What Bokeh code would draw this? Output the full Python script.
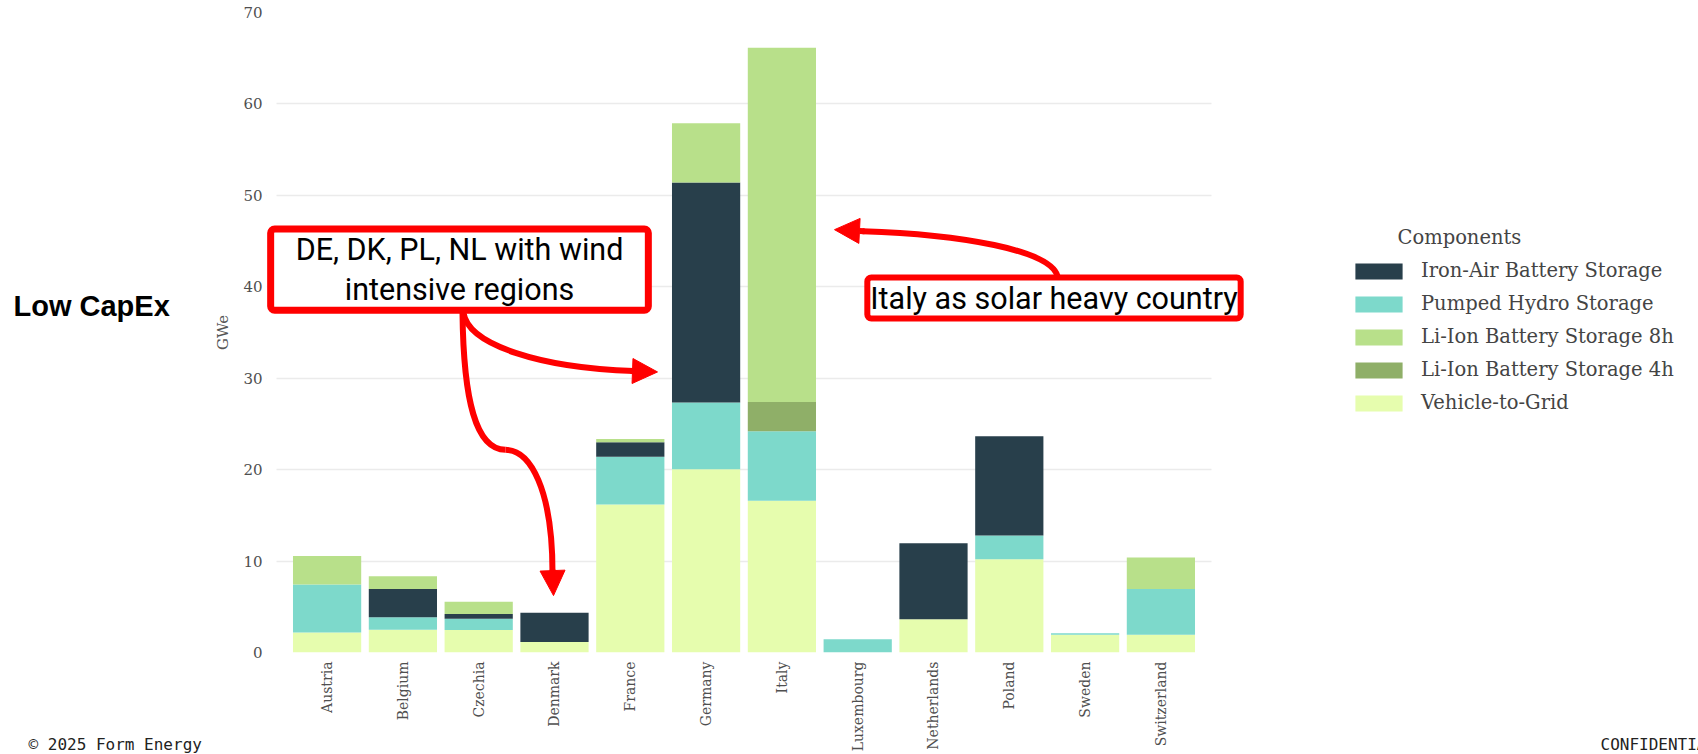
import math
from bokeh.plotting import figure
from bokeh.layouts import row
from bokeh.models import (ColumnDataSource, Range1d, FixedTicker, Legend, LegendItem, Label,
                          Arrow, NormalHead, BoxAnnotation)
from bokeh.embed import file_html
from bokeh.resources import INLINE

# ---------------- data ----------------
countries = ["Austria", "Belgium", "Czechia", "Denmark", "France", "Germany", "Italy",
             "Luxembourg", "Netherlands", "Poland", "Sweden", "Switzerland"]
vehicle_to_grid = [2.2, 2.5, 2.45, 1.15, 16.2, 20.05, 16.6, 0.0, 3.65, 10.2, 1.95, 1.95]
pumped_hydro = [5.25, 1.35, 1.25, 0.0, 5.2, 7.3, 7.6, 1.45, 0.0, 2.6, 0.15, 5.0]
li_ion_4h = [0, 0, 0, 0, 0, 0, 3.2, 0, 0, 0, 0, 0]
iron_air = [0, 3.1, 0.5, 3.2, 1.6, 24.05, 0, 0, 8.3, 10.85, 0, 0]
li_ion_8h = [3.1, 1.4, 1.35, 0, 0.35, 6.5, 38.75, 0, 0, 0, 0, 3.45]
y_ticks = [0, 10, 20, 30, 40, 50, 60, 70]

stack_keys = ["v2g", "ph", "li4", "ia", "li8"]   # bottom -> top
legend_order = [("ia", "Iron-Air Battery Storage"),
                ("ph", "Pumped Hydro Storage"),
                ("li8", "Li-Ion Battery Storage 8h"),
                ("li4", "Li-Ion Battery Storage 4h"),
                ("v2g", "Vehicle-to-Grid")]
colors = {"ia": "#283F4B", "ph": "#7DD9CB", "li8": "#B8E08A", "li4": "#8FAF68", "v2g": "#E6FDAE"}

x_pos = [i + 0.5 for i in range(len(countries))]   # category slots
source = ColumnDataSource(dict(x=x_pos, country=countries, v2g=vehicle_to_grid, ph=pumped_hydro,
                               li4=li_ion_4h, ia=iron_air, li8=li_ion_8h))

# ---------------- layout constants (page pixels) ----------------
W, H = 1698, 754
LEFT_W = 205            # left text panel
MAIN_R = 1250           # right edge of main figure
FRAME_L = 266           # left edge of plotting frame
GL, GR, FT, FB = 276, 1211, 12, 653   # grid left/right, frame top, frame bottom
XSTEP = 75.8
XG = -0.1675            # data x at the grid's left end


def dx(px):
    return XG + (px - GL) / XSTEP


def dy(py):
    return (FB - py) * 70.0 / (FB - FT)


serif = "DejaVu Serif"
RED = "#FF0000"

p = figure(width=MAIN_R - LEFT_W, height=H, x_range=Range1d(dx(FRAME_L), dx(MAIN_R)),
           y_range=Range1d(0, 70), output_backend="svg", toolbar_location=None,
           min_border_left=FRAME_L - LEFT_W, min_border_right=0, min_border_top=FT,
           min_border_bottom=H - FB)
p.frame_align = False
p.outline_line_color = None
p.background_fill_color = "white"
p.border_fill_color = "white"

renderers = p.vbar_stack(stack_keys, x="x", width=0.9, source=source,
                         color=[colors[k] for k in stack_keys], line_width=0)

# axes
p.xaxis.ticker = FixedTicker(ticks=x_pos)
overrides = {}
for xv, c in zip(x_pos, countries):
    overrides[xv] = c
    overrides[str(xv)] = c
p.xaxis.major_label_overrides = overrides
p.yaxis.ticker = FixedTicker(ticks=y_ticks)
p.ygrid.ticker = FixedTicker(ticks=y_ticks)
p.ygrid.grid_line_color = "#EBEBEB"
p.ygrid.grid_line_width = 1.5
p.xgrid.grid_line_color = None
for ax in (p.xaxis, p.yaxis):
    ax.axis_line_color = None
    ax.major_tick_line_color = None
    ax.minor_tick_line_color = None
    ax.major_tick_out = 0
    ax.major_tick_in = 0
    ax.minor_tick_out = 0
    ax.major_label_text_font = serif
    ax.major_label_text_color = "#4F4F4F"
p.xaxis.major_label_text_font_size = "14px"
p.yaxis.major_label_text_font_size = "15px"
p.xaxis.major_label_orientation = math.pi / 2
p.xaxis.major_label_standoff = 9
p.yaxis.major_label_standoff = 4
p.yaxis.axis_label = "GWe"
p.yaxis.axis_label_text_font = serif
p.yaxis.axis_label_text_font_style = "normal"
p.yaxis.axis_label_text_font_size = "15px"
p.yaxis.axis_label_text_color = "#555555"
p.yaxis.axis_label_standoff = 8

# keep grid lines spanning only the reference grid extent
p.add_layout(BoxAnnotation(right=dx(GL), fill_color="white", fill_alpha=1.0, line_color=None))
p.add_layout(BoxAnnotation(left=dx(GR), fill_color="white", fill_alpha=1.0, line_color=None))

# red curved arrows
curves = [
    ((463, 313), (468, 345), (540, 368), (633, 371)),
    ((462, 313), (463, 400), (475, 450), (505, 450)),
    ((505, 450), (530, 450), (552, 490), (552, 573)),
    ((1057, 276), (1050, 250), (960, 234), (862, 231)),
]
p.bezier(x0=[dx(c[0][0]) for c in curves], y0=[dy(c[0][1]) for c in curves],
         cx0=[dx(c[1][0]) for c in curves], cy0=[dy(c[1][1]) for c in curves],
         cx1=[dx(c[2][0]) for c in curves], cy1=[dy(c[2][1]) for c in curves],
         x1=[dx(c[3][0]) for c in curves], y1=[dy(c[3][1]) for c in curves],
         line_color=RED, line_width=6)
heads = [((630, 371), (657, 372)), ((552, 570), (553, 596)), ((864, 231), (834, 229.5))]
for (sx, sy), (ex, ey) in heads:
    p.add_layout(Arrow(x_start=dx(sx), y_start=dy(sy), x_end=dx(ex), y_end=dy(ey),
                       line_color=RED, line_width=6,
                       end=NormalHead(size=25, fill_color=RED, line_color=RED, line_width=1)))

# annotation boxes (padding order: left, right, top, bottom)
box_kw = dict(text_font="Roboto", text_font_size="30.5px", text_color="black",
              text_align="center", text_baseline="middle", border_line_color=RED,
              background_fill_color="white", border_radius=4)
p.add_layout(Label(x=dx(459), y=dy(269.5), text="DE, DK, PL, NL with wind\nintensive regions",
                   border_line_width=7, padding=(25, 25, 3, 3), text_line_height=1.15, **box_kw))
p.add_layout(Label(x=dx(1053.5), y=dy(298), text="Italy as solar heavy country",
                   border_line_width=6, padding=(3, 3, 3, 3), **box_kw))

# ---------------- left text panel ----------------
pl = figure(width=LEFT_W, height=H, x_range=Range1d(0, LEFT_W), y_range=Range1d(H, 0),
            x_axis_type=None, y_axis_type=None, min_border=0, output_backend="svg",
            toolbar_location=None)
pl.frame_align = False
pl.outline_line_color = None
pl.grid.visible = False
pl.add_layout(Label(x=13, y=305, text="Low CapEx", text_font="Liberation Sans",
                    text_font_style="bold", text_font_size="29px", text_color="black",
                    text_baseline="alphabetic"))
pl.add_layout(Label(x=28, y=744, text="\u00a9 2025 Form Energy", text_font="DejaVu Sans Mono",
                    text_font_size="16px", text_color="#222222", text_baseline="alphabetic"))

# ---------------- right panel: legend ----------------
pr = figure(width=W - MAIN_R, height=H, x_range=Range1d(MAIN_R, W), y_range=Range1d(H, 0),
            x_axis_type=None, y_axis_type=None, min_border=0, output_backend="svg",
            toolbar_location=None)
pr.frame_align = False
pr.outline_line_color = None
pr.grid.visible = False
# legend keys (drawn outside the visible range; only their swatches show in the legend)
proxy = {k: pr.vbar(x=[0], top=[-10], width=1, fill_color=colors[k], line_color=None)
         for k in stack_keys}
legend = Legend(items=[LegendItem(label=lab, renderers=[proxy[k]]) for k, lab in legend_order],
                location=(1349 - MAIN_R, H - 414), padding=0, margin=0,
                border_line_color=None, background_fill_alpha=0,
                glyph_width=59, glyph_height=20, label_height=22, spacing=10,
                label_standoff=13, label_text_font=serif, label_text_font_size="19.5px",
                label_text_color="#444444")
pr.add_layout(legend)
pr.add_layout(Label(x=1397, y=237, text="Components", text_font=serif,
                    text_font_size="19.5px", text_color="#444444", text_baseline="alphabetic"))
pr.add_layout(Label(x=1600, y=744, text="CONFIDENTIAL", text_font="DejaVu Sans Mono",
                    text_font_size="16px", text_color="#222222", text_baseline="alphabetic"))

layout = row(pl, p, pr, spacing=0)
open("out.html", "w").write(file_html(layout, INLINE))
